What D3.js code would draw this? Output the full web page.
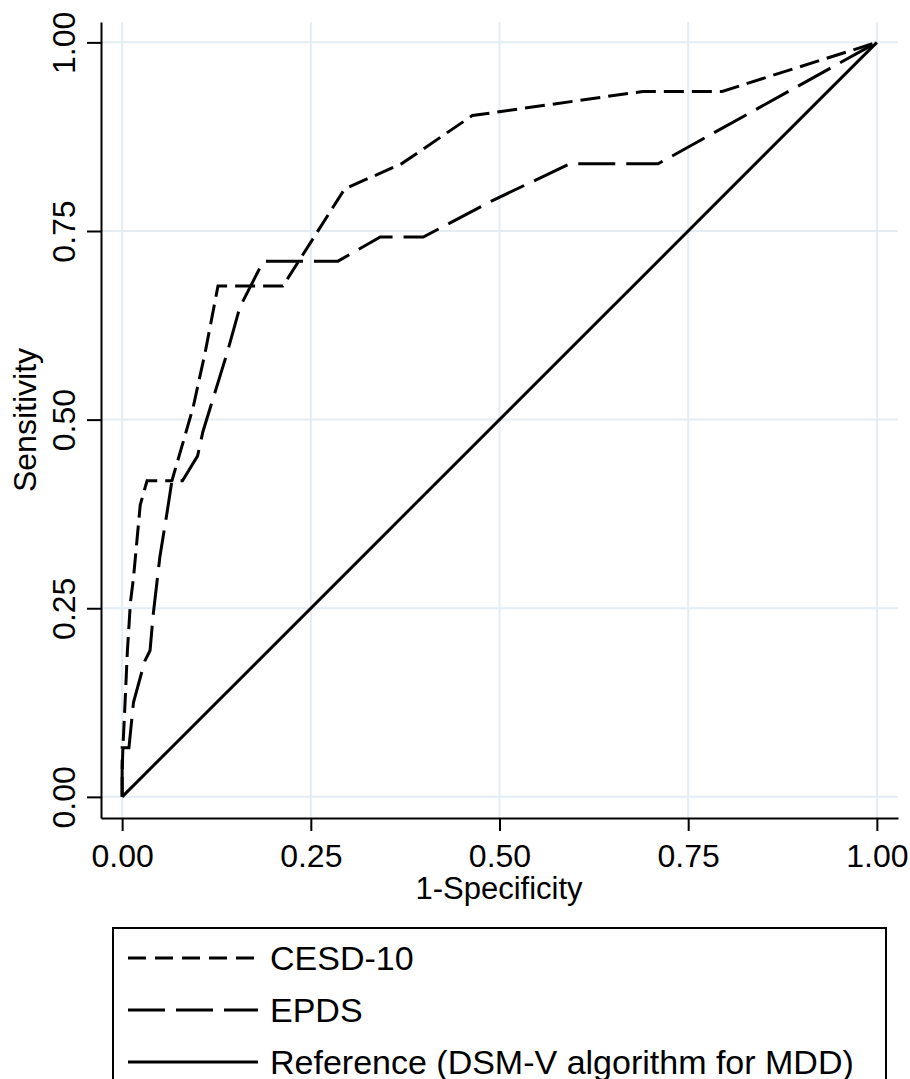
<!DOCTYPE html>
<html lang="en">
<head>
  <meta charset="UTF-8">
  <title>ROC curves</title>
  <script src="https://d3js.org/d3.v7.min.js"></script>
  <style>
    body { margin: 0; background: #fff; }
    svg text { font-family: "Liberation Sans", Arial, sans-serif; fill: #000; }
  </style>
</head>
<body>
  <svg class="roc" width="910" height="1079"></svg>
  <script>
    // ROC data (x = 1-specificity, y = sensitivity)
    const cesdX = [0, 0, 0.001, 0.003, 0.007, 0.011, 0.015, 0.024, 0.033, 0.066, 0.094, 0.11, 0.127, 0.213, 0.295, 0.37, 0.464, 0.69, 0.795, 1];
    const cesdY = [0, 0.032, 0.065, 0.106, 0.194, 0.258, 0.290, 0.387, 0.419, 0.419, 0.516, 0.589, 0.677, 0.677, 0.806, 0.839, 0.903, 0.935, 0.935, 1];
    const epdsX = [0, 0, 0.009, 0.015, 0.03, 0.037, 0.041, 0.05, 0.06, 0.066, 0.08, 0.10, 0.107, 0.139, 0.156, 0.187, 0.286, 0.342, 0.399, 0.49, 0.593, 0.71, 1];
    const epdsY = [0, 0.065, 0.065, 0.125, 0.18, 0.194, 0.24, 0.318, 0.38, 0.419, 0.419, 0.452, 0.484, 0.588, 0.649, 0.710, 0.710, 0.742, 0.742, 0.79, 0.839, 0.839, 1];
    const refX = [0, 1];
    const refY = [0, 1];
    const ticks = [0, 0.25, 0.5, 0.75, 1];
    const tickLabels = ["0.00", "0.25", "0.50", "0.75", "1.00"];
    const legendNames = ["CESD-10", "EPDS", "Reference (DSM-V algorithm for MDD)"];
    const dashes = ["20,8", "37,11", null];

    const svg = d3.select('svg.roc');
    const x = d3.scaleLinear().domain([-0.028, 1.028]).range([101, 898]);
    const y = d3.scaleLinear().domain([-0.028, 1.027]).range([818, 22]);

    // grid
    const grid = svg.append('g');
    ticks.forEach(t => {
      grid.append('line')
        .attr('x1', x(t)).attr('x2', x(t)).attr('y1', y.range()[0]).attr('y2', y.range()[1])
        .attr('stroke', '#e3edf3').attr('stroke-width', 2);
      grid.append('line')
        .attr('y1', y(t)).attr('y2', y(t)).attr('x1', x.range()[0]).attr('x2', x.range()[1])
        .attr('stroke', '#e3edf3').attr('stroke-width', 2);
    });

    // axes
    const xAxis = svg.append('g')
      .attr('transform', 'translate(0,818)')
      .call(d3.axisBottom(x).tickValues(ticks).tickFormat((d, i) => tickLabels[i]).tickSize(13).tickSizeOuter(0).tickPadding(13));
    xAxis.selectAll('path, line').attr('stroke', '#000').attr('stroke-width', 2);
    xAxis.selectAll('text').attr('font-size', 32).attr('font-family', '"Liberation Sans", Arial, sans-serif');

    const yAxis = svg.append('g')
      .attr('transform', 'translate(101,0)')
      .call(d3.axisLeft(y).tickValues(ticks).tickFormat((d, i) => tickLabels[i]).tickSize(14).tickSizeOuter(0));
    yAxis.selectAll('path, line').attr('stroke', '#000').attr('stroke-width', 2);
    yAxis.selectAll('text')
      .attr('font-size', 32)
      .attr('font-family', '"Liberation Sans", Arial, sans-serif')
      .attr('x', null).attr('dy', null)
      .attr('text-anchor', 'middle')
      .attr('transform', 'translate(-26,0) rotate(-90)');

    svg.append('text')
      .attr('x', 499).attr('y', 899)
      .attr('text-anchor', 'middle')
      .attr('font-size', 31)
      .text('1-Specificity');
    svg.append('text')
      .attr('transform', 'translate(36,420) rotate(-90)')
      .attr('text-anchor', 'middle')
      .attr('font-size', 32)
      .text('Sensitivity');

    // curves
    const line = d3.line().x(d => x(d[0])).y(d => y(d[1]));
    const series = [
      d3.zip(cesdX, cesdY),
      d3.zip(epdsX, epdsY),
      d3.zip(refX, refY)
    ];
    series.forEach((pts, i) => {
      svg.append('path')
        .datum(pts)
        .attr('d', line)
        .attr('fill', 'none')
        .attr('stroke', '#000')
        .attr('stroke-width', 3)
        .attr('stroke-dasharray', dashes[i]);
    });

    // legend
    const legend = svg.append('g');
    legend.append('rect')
      .attr('x', 113).attr('y', 928).attr('width', 773).attr('height', 170)
      .attr('fill', '#fff').attr('stroke', '#000').attr('stroke-width', 2);
    legendNames.forEach((name, i) => {
      const cy = 958 + i * 52;
      legend.append('line')
        .attr('x1', 128).attr('x2', 258).attr('y1', cy).attr('y2', cy)
        .attr('stroke', '#000').attr('stroke-width', 3)
        .attr('stroke-dasharray', i === 0 ? '18,9' : dashes[i]);
      legend.append('text')
        .attr('x', 270).attr('y', cy + 12)
        .attr('font-size', 34)
        .text(name);
    });
  </script>
</body>
</html>
